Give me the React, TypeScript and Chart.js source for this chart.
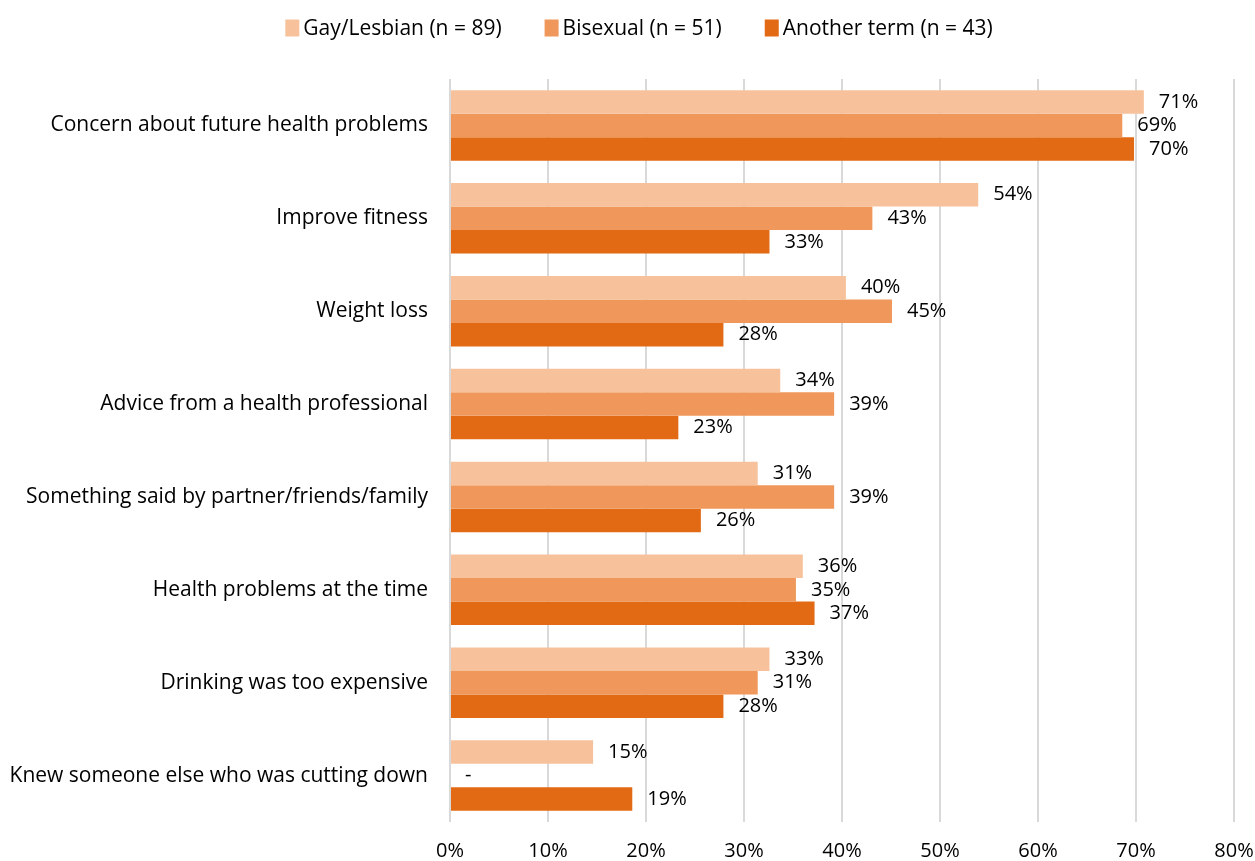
import React, { useEffect, useRef } from "react";
import { Chart, registerables } from "chart.js";

Chart.register(...registerables);

const categories = [
  "Concern about future health problems",
  "Improve fitness",
  "Weight loss",
  "Advice from a health professional",
  "Something said by partner/friends/family",
  "Health problems at the time",
  "Drinking was too expensive",
  "Knew someone else who was cutting down",
];

const seriesNames = ["Gay/Lesbian (n = 89)", "Bisexual (n = 51)", "Another term (n = 43)"];

const gayLesbian = [70.8, 53.9, 40.4, 33.7, 31.4, 36.0, 32.6, 14.6];
const bisexual: (number | null)[] = [68.6, 43.1, 45.1, 39.2, 39.2, 35.3, 31.4, null];
const anotherTerm = [69.8, 32.6, 27.9, 23.3, 25.6, 37.2, 27.9, 18.6];

const xTicks = [0, 10, 20, 30, 40, 50, 60, 70, 80];

const colors = ["#F7C29B", "#F0985B", "#E36A15"];
const FONT = "'Open Sans', sans-serif";
const FONT_SIZE = 21;

// Percent labels at the end of each bar; a dash for a missing value
const valueLabels = {
  id: "valueLabels",
  afterDatasetsDraw(chart: any) {
    const ctx = chart.ctx;
    const xScale = chart.scales.x;
    ctx.save();
    ctx.font = `${FONT_SIZE - 1}px ${FONT}`;
    ctx.fillStyle = "#000";
    ctx.textBaseline = "middle";
    ctx.textAlign = "left";
    chart.data.datasets.forEach((ds: any, di: number) => {
      const meta = chart.getDatasetMeta(di);
      meta.data.forEach((bar: any, i: number) => {
        const v = ds.data[i];
        const y = bar.y;
        if (v === null || v === undefined) {
          ctx.fillText("-", xScale.getPixelForValue(0) + 15, y);
        } else {
          ctx.fillText(`${Math.round(v)}%`, bar.x + 15, y);
        }
      });
    });
    ctx.restore();
  },
};

// Single-row legend centred above the plot
const topLegend = {
  id: "topLegend",
  afterDraw(chart: any) {
    const ctx = chart.ctx;
    const box = 14;
    const boxH = 17;
    const textGap = 4;
    const itemGap = 43;
    ctx.save();
    ctx.font = `${FONT_SIZE}px ${FONT}`;
    ctx.textBaseline = "middle";
    ctx.textAlign = "left";
    const widths = chart.data.datasets.map((ds: any) => box + textGap + ctx.measureText(ds.label).width);
    const total = widths.reduce((a: number, b: number) => a + b, 0) + itemGap * (widths.length - 1);
    let x = 639 - total / 2;
    const cy = 28;
    chart.data.datasets.forEach((ds: any, i: number) => {
      ctx.fillStyle = ds.backgroundColor;
      ctx.fillRect(x, cy - boxH / 2, box, boxH);
      ctx.fillStyle = "#000";
      ctx.fillText(ds.label, x + box + textGap, cy + 1);
      x += widths[i] + itemGap;
    });
    ctx.restore();
  },
};

export default function App() {
  const ref = useRef<HTMLCanvasElement>(null);
  useEffect(() => {
    if (!ref.current) return;
    const data = [gayLesbian, bisexual, anotherTerm];
    const chart = new Chart(ref.current, {
      type: "bar",
      data: {
        labels: categories,
        datasets: seriesNames.map((name, i) => ({
          label: name,
          data: data[i],
          backgroundColor: colors[i],
          borderWidth: 0,
          barPercentage: 1,
          categoryPercentage: 0.76,
        })),
      },
      options: {
        indexAxis: "y",
        animation: false,
        responsive: false,
        maintainAspectRatio: false,
        layout: { padding: { left: 0, right: 21, top: 79, bottom: 0 } },
        plugins: {
          legend: { display: false },
          tooltip: { enabled: false },
        },
        scales: {
          x: {
            min: 0,
            max: 80,
            afterBuildTicks(scale: any) {
              scale.ticks = xTicks.map((v) => ({ value: v }));
            },
            afterFit(scale: any) {
              scale.height = 39;
              scale.paddingLeft = 0;
              scale.paddingRight = 0;
            },
            ticks: {
              callback: (v: any) => `${v}%`,
              font: { family: FONT, size: FONT_SIZE - 1, lineHeight: 1 },
              color: "#000",
              padding: 19,
            },
            grid: { color: "#D9D9D9", lineWidth: 2, drawTicks: false },
            border: { display: false },
          },
          y: {
            afterFit(scale: any) {
              scale.width = 450;
              scale.paddingTop = 0;
              scale.paddingBottom = 0;
            },
            ticks: {
              font: { family: FONT, size: FONT_SIZE },
              color: "#000",
              padding: 22,
            },
            grid: { display: false, drawTicks: false },
            border: { display: false },
          },
        },
      },
      plugins: [valueLabels, topLegend],
    });
    return () => chart.destroy();
  }, []);
  return (
    <div style={{ position: "fixed", left: 0, top: 0, width: 1255, height: 861, background: "#fff" }}>
      <canvas ref={ref} width={1255} height={861} style={{ width: 1255, height: 861 }} />
    </div>
  );
}
